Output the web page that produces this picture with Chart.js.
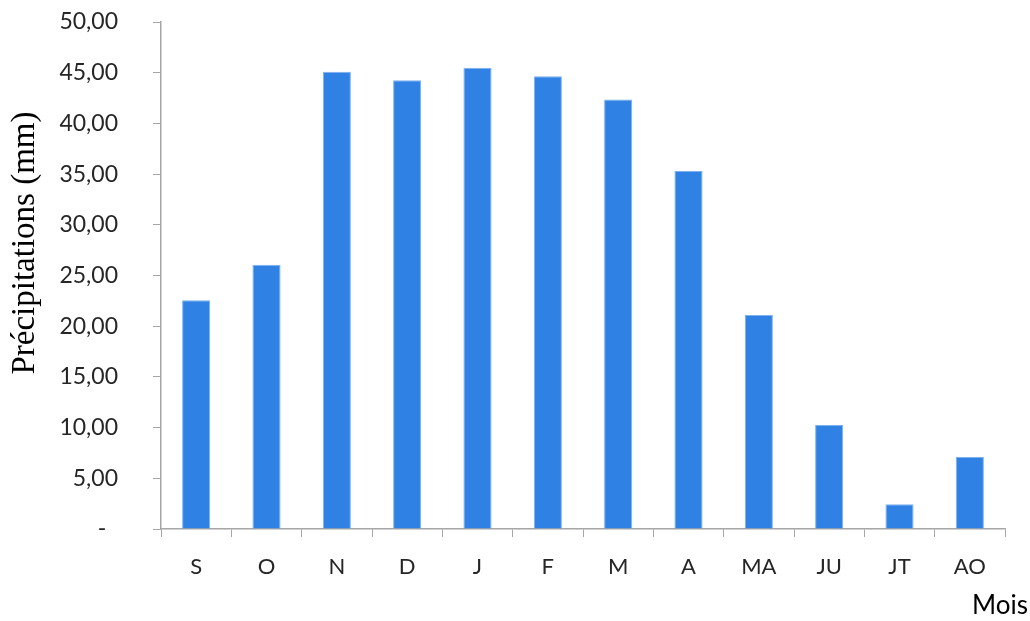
<!DOCTYPE html>
<html>
<head>
<meta charset="utf-8">
<script src="https://cdn.jsdelivr.net/npm/chart.js@4.4.1/dist/chart.umd.min.js"></script>
<style>
  html, body { margin: 0; padding: 0; background: #fff; }
  #wrap { width: 1030px; height: 621px; position: relative; }
</style>
</head>
<body>
<div id="wrap"><canvas id="c" width="1030" height="621"></canvas></div>
<script>
// Monthly precipitation (mm), September to August
const months = ['S', 'O', 'N', 'D', 'J', 'F', 'M', 'A', 'MA', 'JU', 'JT', 'AO'];
const precipitation = [22.55, 26.05, 45.1, 44.25, 45.5, 44.65, 42.35, 35.3, 21.1, 10.25, 2.45, 7.1];
const yTitle = 'Précipitations (mm)';
const xTitle = 'Mois';

const yTickFont = { family: 'Lato, "Open Sans", sans-serif', size: 23 };
const xTickFont = { family: 'Lato, "Open Sans", sans-serif', size: 22 };
const axisGrey = '#a6a6a6';
const textColor = '#262626';

// Axis titles drawn at fixed spots around the plot
const axisTitles = {
  id: 'axisTitles',
  afterDraw(chart) {
    const ctx = chart.ctx;
    ctx.save();
    ctx.fillStyle = '#000';
    ctx.font = '33px "Liberation Serif", "Times New Roman", serif';
    ctx.textAlign = 'center';
    ctx.textBaseline = 'middle';
    ctx.translate(25, 243);
    ctx.rotate(-Math.PI / 2);
    ctx.fillText(yTitle, 0, 0);
    ctx.restore();

    ctx.save();
    ctx.fillStyle = '#000';
    ctx.font = '26px Lato, "Open Sans", sans-serif';
    ctx.textAlign = 'right';
    ctx.textBaseline = 'middle';
    ctx.fillText(xTitle, 1028, 606);
    ctx.restore();
  }
};

new Chart(document.getElementById('c'), {
  type: 'bar',
  data: {
    labels: months,
    datasets: [{
      data: precipitation,
      backgroundColor: '#2F82E4',
      borderColor: '#7EB1EE',
      borderWidth: 1,
      borderSkipped: 'bottom',
      categoryPercentage: 1,
      barPercentage: 0.4
    }]
  },
  options: {
    responsive: false,
    animation: false,
    layout: { padding: { left: 0, right: 25, top: 22, bottom: 0 } },
    plugins: { legend: { display: false }, tooltip: { enabled: false } },
    scales: {
      x: {
        grid: { display: true, drawOnChartArea: false, drawTicks: true, tickLength: 8, color: axisGrey, offset: true },
        border: { color: axisGrey, width: 1.5 },
        ticks: { color: textColor, font: xTickFont, padding: 17, maxRotation: 0 },
        afterFit(scale) { scale.height = 621 - 529; }
      },
      y: {
        min: 0,
        max: 50,
        grid: { display: true, drawOnChartArea: false, drawTicks: true, tickLength: 8, color: axisGrey },
        border: { color: axisGrey, width: 1.5 },
        ticks: {
          stepSize: 5,
          color: textColor,
          font: yTickFont,
          padding: 35,
          callback: (v) => v === 0 ? '-  ' : v.toFixed(2).replace('.', ',')
        },
        afterFit(scale) {
          scale.width = 161;
          // the label gap should only push labels sideways, not shrink the plot
          scale.paddingTop = 0;
          scale.paddingBottom = 0;
        }
      }
    }
  },
  plugins: [axisTitles]
});
</script>
</body>
</html>
